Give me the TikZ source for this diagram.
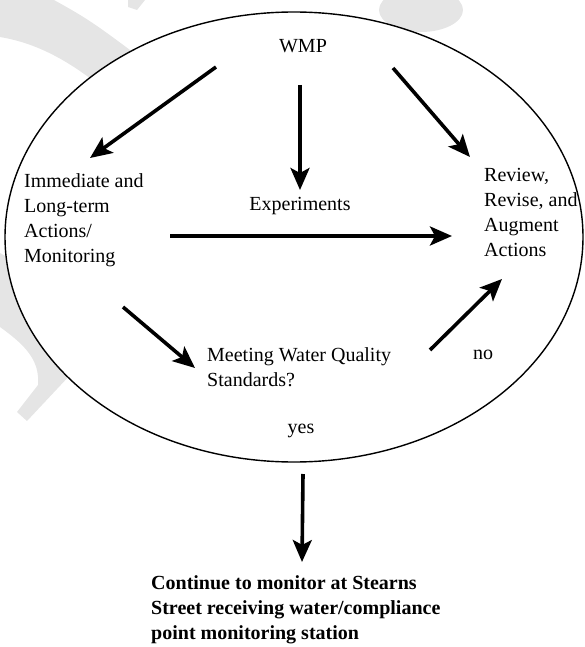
\documentclass[tikz,border=0pt]{standalone}
\usepackage{fontspec}
\setmainfont{Liberation Serif}
\usetikzlibrary{arrows.meta}

\begin{document}
\begin{tikzpicture}[x=1pt,y=1pt]
\tikzstyle{every node}+=[inner sep=0pt,font=\fontsize{20}{25}\selectfont]
\tikzstyle{flow}=[black,line width=3.6pt,-{Stealth[length=22pt,width=19pt,inset=5pt]}]
\tikzstyle{mark wm}=[black!10]
\useasboundingbox (0,0) rectangle (584,-647);
\fill [mark wm] (0,5) -- (45,5) .. controls (90,-20) .. (150,-65) -- (130,-130) -- (95,-82) .. controls (60,-55) and (30,-42) .. (0,-37) -- cycle;
\fill [mark wm] (128,5) -- (149,5) -- (137,-10) -- (128,-7) -- cycle;
\fill [mark wm] (421,-10) ellipse [x radius=42, y radius=22];
\fill [mark wm] (0,-253) .. controls (30,-270) .. (60,-300) -- (102,-343) -- (72,-373) -- (27,-421) -- (17,-412) -- (38,-385) .. controls (40,-360) and (25,-345) .. (0,-327) -- cycle;
\draw [black,line width=1.4pt,fill=white] (294,-237) ellipse [x radius=289, y radius=225];
\node (wmp) at (303,-46) {WMP};
\node [anchor=north west,align=left] (imm) at (24,-173) {Immediate and\\Long-term\\Actions/\\Monitoring};
\node (exp) at (300,-206) {Experiments};
\node [anchor=north west,align=left] (rev) at (484,-168) {Review,\\Revise, and\\Augment\\Actions};
\node [anchor=north west,align=left] (meet) at (207,-347) {Meeting Water Quality\\Standards?};
\node (no) at (483,-355) {no};
\node (yes) at (301,-431) {yes};
\node [anchor=north west,align=left,font=\fontsize{20}{25}\selectfont\bfseries] (cont) at (151,-575) {Continue to monitor at Stearns\\Street receiving water/compliance\\point monitoring station};
\coordinate (a1) at (216,-67);
\coordinate (b1) at (90,-158);
\coordinate (a2) at (300,-85);
\coordinate (b2) at (300,-190);
\coordinate (a3) at (393,-68);
\coordinate (b3) at (470,-157);
\coordinate (a4) at (170,-236);
\coordinate (b4) at (452,-236);
\coordinate (a5) at (123,-307);
\coordinate (b5) at (195,-368);
\coordinate (a6) at (430,-350);
\coordinate (b6) at (502,-279);
\coordinate (a7) at (303,-474);
\coordinate (b7) at (302,-562);
\draw [flow] (a1) -- (b1);
\draw [flow] (a2) -- (b2);
\draw [flow] (a3) -- (b3);
\draw [flow] (a4) -- (b4);
\draw [flow] (a5) -- (b5);
\draw [flow] (a6) -- (b6);
\draw [flow] (a7) -- (b7);
\end{tikzpicture}
\end{document}
